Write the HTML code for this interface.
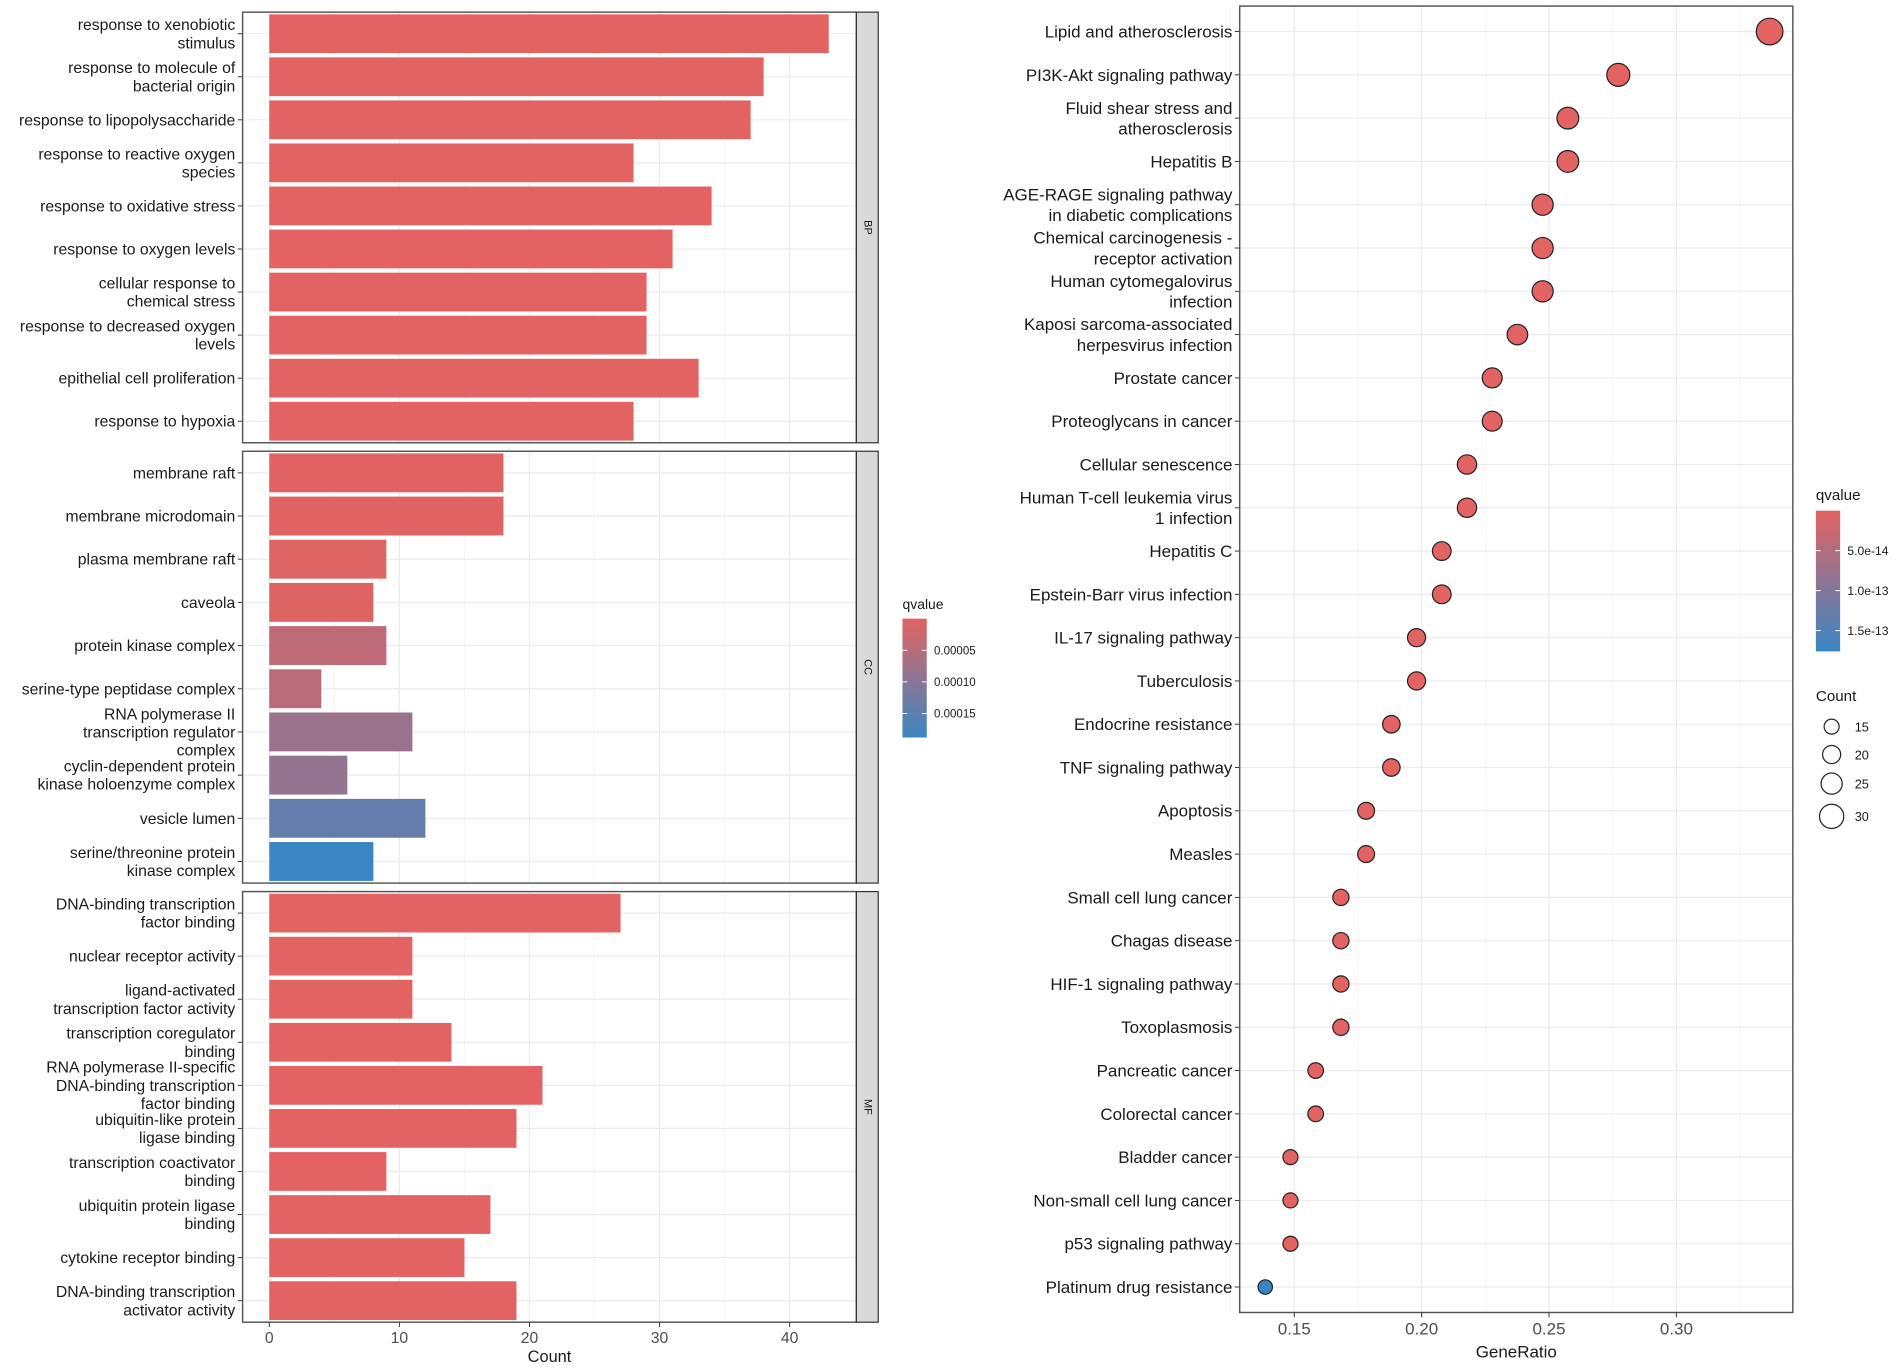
<!DOCTYPE html>
<html><head><meta charset="utf-8"><style>
html,body{margin:0;padding:0;background:#fff;}
svg{display:block;font-family:"Liberation Sans",Arial,sans-serif;}
</style></head><body>
<svg id="chart" width="1902" height="1370" viewBox="0 0 1568 1129.4" xmlns="http://www.w3.org/2000/svg"></svg>
<script>
// ---------- GO bar chart data ----------
const bpTerms = ["response to xenobiotic\nstimulus","response to molecule of\nbacterial origin","response to lipopolysaccharide","response to reactive oxygen\nspecies","response to oxidative stress","response to oxygen levels","cellular response to\nchemical stress","response to decreased oxygen\nlevels","epithelial cell proliferation","response to hypoxia"];
const bpCounts = [43,38,37,28,34,31,29,29,33,28];
const bpQ = [0,0,0,0,0,0,0,0,0,0];
const ccTerms = ["membrane raft","membrane microdomain","plasma membrane raft","caveola","protein kinase complex","serine-type peptidase complex","RNA polymerase II\ntranscription regulator\ncomplex","cyclin-dependent protein\nkinase holoenzyme complex","vesicle lumen","serine/threonine protein\nkinase complex"];
const ccCounts = [18,18,9,8,9,4,11,6,12,8];
const ccQ = [0.000002,0.000002,0.000003,0.000004,0.00004,0.000045,0.00008,0.00009,0.00014,0.000188];
const mfTerms = ["DNA-binding transcription\nfactor binding","nuclear receptor activity","ligand-activated\ntranscription factor activity","transcription coregulator\nbinding","RNA polymerase II-specific\nDNA-binding transcription\nfactor binding","ubiquitin-like protein\nligase binding","transcription coactivator\nbinding","ubiquitin protein ligase\nbinding","cytokine receptor binding","DNA-binding transcription\nactivator activity"];
const mfCounts = [27,11,11,14,21,19,9,17,15,19];
const mfQ = [0,0,0,0,0,0,0,0,0,0];
const countTicks = [0,10,20,30,40];
const goQTicks = [0.00005,0.00010,0.00015];
const goQLabels = ["0.00005","0.00010","0.00015"];
// ---------- KEGG dot chart data ----------
const keggTerms = ["Lipid and atherosclerosis","PI3K-Akt signaling pathway","Fluid shear stress and\natherosclerosis","Hepatitis B","AGE-RAGE signaling pathway\nin diabetic complications","Chemical carcinogenesis -\nreceptor activation","Human cytomegalovirus\ninfection","Kaposi sarcoma-associated\nherpesvirus infection","Prostate cancer","Proteoglycans in cancer","Cellular senescence","Human T-cell leukemia virus\n1 infection","Hepatitis C","Epstein-Barr virus infection","IL-17 signaling pathway","Tuberculosis","Endocrine resistance","TNF signaling pathway","Apoptosis","Measles","Small cell lung cancer","Chagas disease","HIF-1 signaling pathway","Toxoplasmosis","Pancreatic cancer","Colorectal cancer","Bladder cancer","Non-small cell lung cancer","p53 signaling pathway","Platinum drug resistance"];
const keggCounts = [34,28,26,26,25,25,25,24,23,23,22,22,21,21,20,20,19,19,18,18,17,17,17,17,16,16,15,15,15,14];
const keggRatio = [0.3366,0.2772,0.2574,0.2574,0.2475,0.2475,0.2475,0.2376,0.2277,0.2277,0.2178,0.2178,0.2079,0.2079,0.1980,0.1980,0.1881,0.1881,0.1782,0.1782,0.1683,0.1683,0.1683,0.1683,0.1584,0.1584,0.1485,0.1485,0.1485,0.1386];
const keggQ = [1e-16,1e-16,1e-16,1e-16,1e-16,1e-16,1e-16,1e-16,1e-16,1e-16,1e-16,1e-16,1e-16,1e-16,1e-16,1e-16,1e-16,1e-16,1e-16,1e-16,1e-16,1e-16,1e-16,1e-16,1e-16,1e-16,1e-16,1e-16,1e-16,1.76e-13];
const ratioTicks = [0.15,0.20,0.25,0.30];
const ratioLabels = ["0.15","0.20","0.25","0.30"];
const keggQTicks = [5e-14,1e-13,1.5e-13];
const keggQLabels = ["5.0e-14","1.0e-13","1.5e-13"];
const sizeTicks = [15,20,25,30];

const NS="http://www.w3.org/2000/svg";
const svg=document.getElementById('chart');
function mk(tag,attrs,parent){const e=document.createElementNS(NS,tag);for(const k in attrs)e.setAttribute(k,attrs[k]);(parent||svg).appendChild(e);return e;}
function lerpColor(t){t=Math.max(0,Math.min(1,t));const a=[226,99,98],b=[58,134,196];
 return `rgb(${Math.round(a[0]+(b[0]-a[0])*t)},${Math.round(a[1]+(b[1]-a[1])*t)},${Math.round(a[2]+(b[2]-a[2])*t)})`;}
function multiText(str,x,cy,size,anchor,lh){
 const lines=str.split("\n");const t=mk('text',{x:x,y:cy,'font-size':size,'text-anchor':anchor,fill:'#1a1a1a'});
 lines.forEach((ln,i)=>{const s=mk('tspan',{x:x,y:cy+(i-(lines.length-1)/2)*lh+size*0.35},t);s.textContent=ln;});
 return t;}

// ---------- left panels ----------
const xL=200,xR=706, cnt=v=>222+v*(651-222)/40;
const goQmax=0.000188;
const panels=[
 {name:'BP',terms:bpTerms,counts:bpCounts,q:bpQ,top:10,bot:365},
 {name:'CC',terms:ccTerms,counts:ccCounts,q:ccQ,top:372,bot:728},
 {name:'MF',terms:mfTerms,counts:mfCounts,q:mfQ,top:735,bot:1090}];
panels.forEach(p=>{
 const g=mk('g',{});
 
 
 mk('rect',{x:xL,y:p.top,width:xR-xL,height:p.bot-p.top,fill:'#fff'},g);
 for(let v=5;v<45;v+=10) mk('line',{x1:cnt(v),x2:cnt(v),y1:p.top,y2:p.bot,stroke:'#f2f2f2','stroke-width':0.6},g);
 countTicks.forEach(v=>mk('line',{x1:cnt(v),x2:cnt(v),y1:p.top,y2:p.bot,stroke:'#ebebeb','stroke-width':1},g));
 const n=p.terms.length, step=(p.bot-p.top)/n;
 p.terms.forEach((term,i)=>{
  const cy=p.top+step*(i+0.5);
  mk('line',{x1:xL,x2:xR,y1:cy,y2:cy,stroke:'#ebebeb','stroke-width':1},g);
  const bar=mk('rect',{x:cnt(0),y:cy-step*0.45,width:cnt(p.counts[i])-cnt(0),height:step*0.9,fill:lerpColor(p.q[i]/goQmax)},g);
  
  
  mk('line',{x1:xL-4,x2:xL,y1:cy,y2:cy,stroke:'#333','stroke-width':0.8},g);
  const lb=multiText(term,xL-6,cy,13,'end',15);
  
  
 });
 mk('rect',{x:xL,y:p.top,width:xR-xL,height:p.bot-p.top,fill:'none',stroke:'#555','stroke-width':1.2},g);
 const st=mk('rect',{x:xR,y:p.top,width:18,height:p.bot-p.top,fill:'#d9d9d9',stroke:'#333','stroke-width':1},g);
 
 
 const my=(p.top+p.bot)/2;
 const stx=mk('text',{x:xR+9,y:my,'font-size':9,'text-anchor':'middle',fill:'#1a1a1a',transform:`rotate(90 ${xR+9} ${my})`,'dominant-baseline':'middle'},g);
 stx.textContent=p.name;
});
countTicks.forEach(v=>{
 mk('line',{x1:cnt(v),x2:cnt(v),y1:1090,y2:1094,stroke:'#333','stroke-width':0.8});
 const t=mk('text',{x:cnt(v),y:1107,'font-size':13,'text-anchor':'middle',fill:'#4d4d4d'});t.textContent=v;
 
 
});
const xt=mk('text',{x:453,y:1123,'font-size':13.5,'text-anchor':'middle',fill:'#1a1a1a'});xt.textContent='Count';



// GO legend
function gradient(id){const d=mk('defs',{});const lg=mk('linearGradient',{id:id,x1:0,y1:0,x2:0,y2:1},d);
 for(let i=0;i<=10;i++)mk('stop',{offset:i/10,'stop-color':lerpColor(i/10)},lg);}
gradient('gq');
const glt=mk('text',{x:744,y:502,'font-size':11.5,fill:'#1a1a1a'});glt.textContent='qvalue';


const gcb=mk('rect',{x:744,y:510,width:20,height:98,fill:'url(#gq)'});


goQTicks.forEach((v,i)=>{const y=510+v/goQmax*98;
 mk('line',{x1:744,x2:748,y1:y,y2:y,stroke:'#fff','stroke-width':0.8});mk('line',{x1:760,x2:764,y1:y,y2:y,stroke:'#fff','stroke-width':0.8});
 const t=mk('text',{x:770,y:y+3.5,'font-size':9.5,fill:'#1a1a1a'});t.textContent=goQLabels[i];});

// ---------- right KEGG dot plot ----------
const pL=1022,pR=1478,pT=5,pB=1082;
const rx=v=>1067+(v-0.15)*(105/0.05);
const keggQmax=1.76e-13;
const rad=c=>2.4+0.253*c;
const kg=mk('g',{});


mk('rect',{x:pL,y:pT,width:pR-pL,height:pB-pT,fill:'#fff'},kg);
[0.125,0.175,0.225,0.275,0.325].forEach(v=>mk('line',{x1:rx(v),x2:rx(v),y1:pT,y2:pB,stroke:'#f2f2f2','stroke-width':0.6},kg));
ratioTicks.forEach(v=>mk('line',{x1:rx(v),x2:rx(v),y1:pT,y2:pB,stroke:'#ebebeb','stroke-width':1},kg));
const kStep=(1061-26)/(keggTerms.length-1);
keggTerms.forEach((term,i)=>{
 const cy=26+i*kStep;
 mk('line',{x1:pL,x2:pR,y1:cy,y2:cy,stroke:'#ebebeb','stroke-width':1},kg);
 mk('line',{x1:pL-4,x2:pL,y1:cy,y2:cy,stroke:'#333','stroke-width':0.8},kg);
 const lb=multiText(term,pL-6,cy,14,'end',17);
 
 
});
keggTerms.forEach((term,i)=>{
 const cy=26+i*kStep;
 const c=mk('circle',{cx:rx(keggRatio[i]),cy:cy,r:rad(keggCounts[i]),fill:lerpColor(keggQ[i]/keggQmax),stroke:'#222','stroke-width':1},kg);
 
 
});
mk('rect',{x:pL,y:pT,width:pR-pL,height:pB-pT,fill:'none',stroke:'#555','stroke-width':1.2},kg);
ratioTicks.forEach((v,i)=>{
 mk('line',{x1:rx(v),x2:rx(v),y1:pB,y2:pB+4,stroke:'#333','stroke-width':0.8});
 const t=mk('text',{x:rx(v),y:1100,'font-size':14,'text-anchor':'middle',fill:'#4d4d4d'});t.textContent=ratioLabels[i];
 
 
});
const xt2=mk('text',{x:1250,y:1119,'font-size':14,'text-anchor':'middle',fill:'#1a1a1a'});xt2.textContent='GeneRatio';



// KEGG legends
const klt=mk('text',{x:1497,y:412,'font-size':12.5,fill:'#1a1a1a'});klt.textContent='qvalue';


const kcb=mk('rect',{x:1497,y:421,width:20,height:116,fill:'url(#gq)'});


keggQTicks.forEach((v,i)=>{const y=421+v/keggQmax*116;
 mk('line',{x1:1497,x2:1501,y1:y,y2:y,stroke:'#fff','stroke-width':0.8});mk('line',{x1:1513,x2:1517,y1:y,y2:y,stroke:'#fff','stroke-width':0.8});
 const t=mk('text',{x:1523,y:y+3.5,'font-size':10,fill:'#1a1a1a'});t.textContent=keggQLabels[i];});
const slt=mk('text',{x:1497,y:578,'font-size':12.5,fill:'#1a1a1a'});slt.textContent='Count';


const sizeY=[599,622,646,673];
sizeTicks.forEach((v,i)=>{
 const c=mk('circle',{cx:1510,cy:sizeY[i],r:rad(v),fill:'none',stroke:'#222','stroke-width':1});
 
 
 const t=mk('text',{x:1529,y:sizeY[i]+4,'font-size':10.5,fill:'#1a1a1a'});t.textContent=v;});
</script>
</body></html>
